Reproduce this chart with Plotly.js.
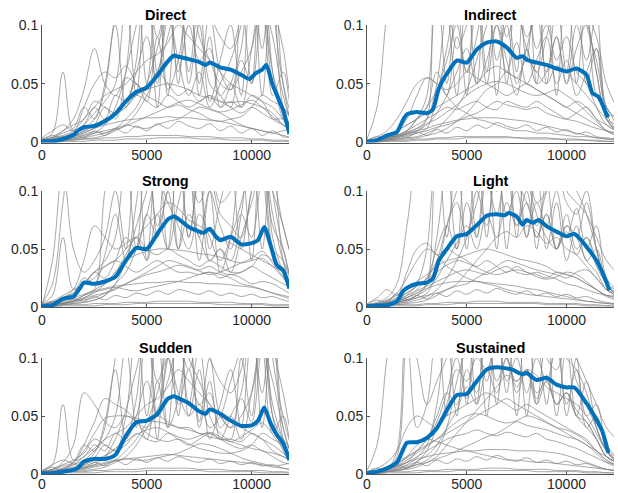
<!DOCTYPE html>
<html>
<head>
<meta charset="utf-8">
<script src="https://cdn.plot.ly/plotly-3.0.1.min.js"></script>
<style>html,body{margin:0;padding:0;background:#fff;}#chart{width:618px;height:493px;}</style>
</head>
<body>
<div id="chart"></div>
<script>
// ---------- DATA ----------
const panelTitles = ['Direct', 'Indirect', 'Strong', 'Light', 'Sudden', 'Sustained'];
const xTickVals = [0, 5000, 10000];
const xTickText = ['0', '5000', '10000'];
const yTickVals = [0, 0.05, 0.1];
const yTickText = ['0', '0.05', '0.1'];

// sample positions of the individual (gray) curves
const xGrid = [0,500,1000,1500,2000,2500,3000,3500,4000,4500,5000,5500,6000,6500,7000,7500,8000,8500,9000,9500,10000,10500,11000,11500,12000,12500];

// ---- mean curves (blue) ----
const directMeanX = [0,500,1000,1500,1700,2000,2500,3000,3500,4000,4500,5000,5500,6000,6300,6500,7000,7500,7800,8000,8500,9000,9500,9900,10200,10500,10700,11000,11500,11800];
const directMean  = [0.001,0.001,0.003,0.0066,0.01,0.013,0.014,0.018,0.0245,0.035,0.043,0.047,0.057,0.069,0.074,0.073,0.071,0.0685,0.066,0.068,0.064,0.062,0.0576,0.054,0.059,0.062,0.066,0.049,0.0275,0.0072];

const indirectMeanX = [0,500,1000,1500,1800,2000,2500,3000,3300,3600,4000,4500,5000,5500,6000,6500,7000,7500,7800,8000,8500,9000,9500,10000,10500,11000,11300,11600,12000,12100];
const indirectMean  = [0.0006,0.002,0.006,0.009,0.019,0.024,0.026,0.025,0.028,0.046,0.0585,0.0697,0.068,0.079,0.085,0.086,0.081,0.072,0.0735,0.0705,0.068,0.066,0.063,0.0605,0.063,0.0576,0.042,0.039,0.0245,0.0216];

const strongMeanX = [0,500,800,1000,1500,1800,2000,2500,3000,3500,4000,4500,5000,5500,6000,6300,6500,7000,7500,7700,8000,8300,8500,9000,9500,10000,10300,10600,10900,11200,11500,11800];
const strongMean  = [0.0006,0.0015,0.005,0.0072,0.009,0.016,0.021,0.020,0.022,0.026,0.040,0.051,0.050,0.063,0.0755,0.078,0.076,0.069,0.065,0.064,0.0675,0.0605,0.0576,0.0605,0.054,0.055,0.0576,0.069,0.0533,0.036,0.0317,0.0158];

const lightMeanX = [0,500,1000,1500,1800,2000,2500,3000,3300,3600,4000,4500,5000,5500,6000,6500,6900,7100,7500,7800,8000,8300,8600,9000,9500,10000,10400,11000,11500,12000,12150];
const lightMean  = [0.0006,0.0014,0.0014,0.005,0.0135,0.0164,0.020,0.021,0.0245,0.040,0.050,0.061,0.063,0.0705,0.0787,0.080,0.079,0.081,0.078,0.071,0.075,0.0726,0.075,0.0697,0.065,0.061,0.063,0.052,0.040,0.0216,0.0144];

const suddenMeanX = [0,500,1000,1500,1700,2000,2500,3000,3500,4000,4500,5000,5500,6000,6300,6500,7000,7500,7800,8000,8500,9000,9500,10000,10300,10600,10900,11200,11500,11800];
const suddenMean  = [0.0006,0.0006,0.002,0.0035,0.005,0.0107,0.013,0.013,0.0164,0.033,0.0447,0.046,0.0516,0.065,0.067,0.0654,0.061,0.054,0.052,0.0556,0.052,0.046,0.0415,0.042,0.046,0.0573,0.0438,0.0337,0.0265,0.012];

const sustainedMeanX = [0,500,1000,1500,1800,2000,2500,3000,3500,4000,4500,5000,5500,6000,6500,7000,7300,7500,7800,8000,8500,9000,9500,10000,10400,11000,11500,11800,12100];
const sustainedMean  = [0.0006,0.002,0.005,0.010,0.0207,0.027,0.0274,0.031,0.0395,0.055,0.068,0.069,0.080,0.090,0.092,0.091,0.090,0.088,0.086,0.087,0.081,0.083,0.077,0.0746,0.0746,0.061,0.0467,0.0366,0.018];

// ---- individual curves (gray), one row per curve, sampled at xGrid ----
const directGray = [
 [0.001,0.001,0.002,0.002,0.003,0.003,0.004,0.004,0.005,0.005,0.006,0.006,0.006,0.006,0.005,0.005,0.005,0.004,0.004,0.004,0.003,0.003,0.002,0.002,0.001,0.001],
 [0.001,0.002,0.004,0.006,0.009,0.012,0.015,0.017,0.019,0.02,0.021,0.021,0.022,0.021,0.021,0.02,0.019,0.018,0.016,0.014,0.012,0.01,0.008,0.006,0.004,0.003],
 [0.002,0.003,0.005,0.008,0.012,0.02,0.045,0.11,0.14,0.13,0.12,0.15,0.16,0.14,0.12,0.13,0.15,0.14,0.12,0.13,0.15,0.16,0.12,0.08,0.03,0.02],
 [0.003,0.008,0.06,0.01,0.015,0.03,0.02,0.04,0.035,0.06,0.09,0.05,0.12,0.06,0.1,0.07,0.08,0.04,0.05,0.03,0.08,0.13,0.05,0.03,0.02,0.02],
 [0.002,0.004,0.01,0.02,0.045,0.08,0.05,0.04,0.055,0.05,0.045,0.06,0.05,0.04,0.045,0.035,0.04,0.03,0.035,0.03,0.04,0.035,0.02,0.015,0.01,0.01],
 [0.001,0.002,0.003,0.005,0.01,0.015,0.02,0.025,0.03,0.04,0.045,0.048,0.05,0.048,0.045,0.04,0.038,0.035,0.034,0.035,0.033,0.03,0.025,0.015,0.01,0.008],
 [0.001,0.001,0.002,0.003,0.004,0.006,0.008,0.012,0.02,0.03,0.05,0.08,0.11,0.07,0.04,0.06,0.03,0.05,0.07,0.1,0.15,0.2,0.12,0.05,0.02,0.01],
 [0.002,0.005,0.01,0.015,0.02,0.035,0.03,0.025,0.03,0.04,0.035,0.03,0.04,0.035,0.03,0.035,0.04,0.035,0.03,0.025,0.03,0.025,0.02,0.02,0.015,0.01],
 [0.001,0.001,0.002,0.003,0.005,0.008,0.015,0.03,0.06,0.1,0.13,0.09,0.12,0.11,0.14,0.09,0.07,0.05,0.045,0.06,0.08,0.12,0.09,0.04,0.015,0.01],
 [0.004,0.01,0.015,0.01,0.03,0.05,0.06,0.055,0.065,0.05,0.04,0.035,0.03,0.032,0.028,0.025,0.02,0.018,0.02,0.022,0.03,0.04,0.035,0.03,0.02,0.02],
 [0.001,0.002,0.003,0.004,0.006,0.008,0.01,0.012,0.015,0.013,0.012,0.015,0.018,0.02,0.025,0.03,0.028,0.025,0.02,0.015,0.012,0.01,0.008,0.01,0.012,0.01],
 [0.001,0.001,0.001,0.002,0.003,0.004,0.006,0.01,0.015,0.025,0.04,0.06,0.09,0.12,0.1,0.13,0.11,0.09,0.08,0.11,0.16,0.13,0.06,0.03,0.01,0.008],
 [0,0,0.001,0.001,0.001,0.002,0.002,0.002,0.003,0.003,0.003,0.004,0.004,0.004,0.004,0.003,0.003,0.003,0.002,0.002,0.002,0.002,0.001,0.001,0.001,0.001],
 [0.002,0.004,0.006,0.01,0.02,0.03,0.04,0.045,0.05,0.06,0.07,0.075,0.085,0.1,0.09,0.08,0.07,0.06,0.05,0.045,0.04,0.035,0.03,0.02,0.01,0.005],
 [0.002,0.006,0.003,0.008,0.004,0.01,0.006,0.012,0.008,0.014,0.01,0.016,0.012,0.018,0.014,0.012,0.016,0.01,0.014,0.008,0.012,0.006,0.01,0.005,0.004,0.003],
 [0.001,0.003,0.005,0.004,0.007,0.009,0.008,0.011,0.014,0.018,0.022,0.026,0.03,0.034,0.036,0.033,0.029,0.026,0.028,0.032,0.036,0.03,0.022,0.015,0.008,0.005],
 [0.001,0.002,0.004,0.008,0.015,0.025,0.035,0.05,0.12,0.04,0.15,0.03,0.14,0.05,0.16,0.04,0.09,0.03,0.05,0.08,0.16,0.04,0.14,0.03,0.01,0.005],
 [0.001,0.001,0.003,0.005,0.01,0.015,0.03,0.02,0.06,0.14,0.05,0.13,0.04,0.15,0.06,0.12,0.05,0.04,0.03,0.12,0.05,0.18,0.06,0.02,0.008,0.005],
 [0.002,0.004,0.008,0.012,0.03,0.02,0.05,0.1,0.03,0.07,0.16,0.06,0.11,0.15,0.05,0.1,0.035,0.07,0.1,0.04,0.14,0.08,0.16,0.05,0.015,0.01],
 [0.001,0.002,0.003,0.005,0.008,0.012,0.018,0.025,0.035,0.05,0.035,0.09,0.045,0.07,0.13,0.05,0.11,0.06,0.045,0.07,0.05,0.12,0.04,0.06,0.02,0.01]
];

const indirectGray = [
 [0.001,0.001,0.001,0.002,0.002,0.003,0.003,0.004,0.004,0.005,0.005,0.005,0.005,0.005,0.005,0.004,0.004,0.004,0.004,0.003,0.003,0.003,0.002,0.002,0.001,0.001],
 [0.001,0.002,0.003,0.005,0.007,0.01,0.012,0.015,0.017,0.019,0.02,0.021,0.021,0.021,0.02,0.019,0.018,0.016,0.014,0.012,0.01,0.008,0.006,0.004,0.003,0.002],
 [0.003,0.03,0.11,0.16,0.15,0.13,0.12,0.14,0.15,0.13,0.12,0.14,0.13,0.12,0.15,0.13,0.12,0.14,0.13,0.12,0.13,0.12,0.11,0.09,0.05,0.03],
 [0.001,0.002,0.003,0.005,0.008,0.01,0.02,0.13,0.12,0.08,0.1,0.13,0.11,0.14,0.1,0.12,0.09,0.11,0.13,0.1,0.12,0.14,0.1,0.07,0.03,0.02],
 [0.002,0.005,0.01,0.02,0.035,0.05,0.055,0.05,0.045,0.05,0.06,0.055,0.05,0.045,0.04,0.045,0.05,0.045,0.04,0.035,0.03,0.035,0.03,0.02,0.015,0.01],
 [0.001,0.002,0.004,0.006,0.01,0.02,0.03,0.06,0.04,0.09,0.06,0.12,0.05,0.1,0.07,0.04,0.08,0.05,0.06,0.09,0.05,0.08,0.1,0.06,0.02,0.01],
 [0.002,0.003,0.006,0.01,0.015,0.02,0.025,0.03,0.035,0.04,0.045,0.05,0.06,0.065,0.06,0.055,0.05,0.045,0.04,0.035,0.03,0.025,0.02,0.015,0.01,0.008],
 [0.001,0.001,0.002,0.003,0.004,0.005,0.008,0.012,0.02,0.03,0.045,0.07,0.1,0.13,0.09,0.11,0.08,0.06,0.09,0.12,0.1,0.14,0.11,0.06,0.02,0.01],
 [0.001,0.002,0.004,0.006,0.01,0.015,0.02,0.025,0.03,0.028,0.032,0.035,0.03,0.028,0.035,0.032,0.03,0.035,0.03,0.025,0.02,0.018,0.015,0.012,0.01,0.008],
 [0,0,0.001,0.001,0.001,0.002,0.002,0.003,0.003,0.003,0.004,0.004,0.004,0.004,0.004,0.004,0.003,0.003,0.003,0.003,0.002,0.002,0.002,0.001,0.001,0.001],
 [0.001,0.002,0.005,0.01,0.02,0.04,0.055,0.05,0.04,0.03,0.025,0.02,0.018,0.015,0.012,0.01,0.01,0.008,0.008,0.007,0.006,0.005,0.005,0.004,0.003,0.003],
 [0.001,0.001,0.002,0.003,0.005,0.008,0.012,0.04,0.08,0.12,0.1,0.14,0.12,0.15,0.13,0.1,0.12,0.08,0.1,0.07,0.09,0.06,0.05,0.03,0.015,0.01],
 [0.001,0.002,0.003,0.004,0.006,0.008,0.01,0.013,0.015,0.018,0.022,0.025,0.03,0.035,0.032,0.03,0.028,0.03,0.025,0.022,0.02,0.025,0.03,0.02,0.01,0.006],
 [0.001,0.001,0.002,0.002,0.003,0.004,0.006,0.008,0.012,0.018,0.025,0.035,0.045,0.05,0.06,0.055,0.07,0.06,0.05,0.065,0.06,0.05,0.04,0.03,0.02,0.015],
 [0.002,0.005,0.003,0.007,0.004,0.009,0.006,0.011,0.008,0.013,0.01,0.015,0.012,0.017,0.014,0.012,0.015,0.01,0.013,0.009,0.011,0.007,0.009,0.005,0.004,0.003],
 [0.001,0.002,0.004,0.006,0.009,0.012,0.016,0.02,0.026,0.032,0.04,0.046,0.05,0.052,0.05,0.046,0.042,0.04,0.042,0.045,0.04,0.034,0.026,0.018,0.01,0.006],
 [0.001,0.002,0.004,0.006,0.01,0.02,0.04,0.14,0.05,0.12,0.04,0.16,0.06,0.13,0.05,0.14,0.07,0.15,0.05,0.12,0.06,0.14,0.05,0.08,0.02,0.01],
 [0.001,0.001,0.002,0.004,0.008,0.012,0.02,0.05,0.11,0.04,0.13,0.05,0.15,0.04,0.12,0.06,0.16,0.05,0.13,0.04,0.15,0.05,0.12,0.04,0.03,0.015],
 [0.002,0.003,0.006,0.01,0.015,0.02,0.03,0.045,0.07,0.1,0.06,0.09,0.14,0.07,0.1,0.05,0.08,0.11,0.06,0.09,0.05,0.1,0.07,0.11,0.03,0.02],
 [0.001,0.002,0.003,0.005,0.007,0.01,0.015,0.025,0.04,0.06,0.08,0.05,0.07,0.1,0.06,0.085,0.05,0.07,0.09,0.05,0.07,0.04,0.06,0.08,0.025,0.01]
];

const strongGray = [
 [0.001,0.001,0.002,0.002,0.002,0.003,0.003,0.003,0.004,0.004,0.004,0.005,0.005,0.005,0.005,0.004,0.004,0.004,0.004,0.003,0.003,0.003,0.002,0.002,0.002,0.001],
 [0.001,0.003,0.005,0.008,0.011,0.014,0.016,0.018,0.019,0.02,0.021,0.021,0.022,0.022,0.021,0.021,0.02,0.02,0.019,0.018,0.017,0.015,0.012,0.009,0.006,0.004],
 [0.003,0.02,0.09,0.15,0.14,0.12,0.13,0.15,0.13,0.12,0.14,0.13,0.15,0.12,0.13,0.14,0.12,0.13,0.15,0.12,0.14,0.13,0.1,0.07,0.04,0.03],
 [0.003,0.01,0.06,0.015,0.02,0.03,0.025,0.04,0.06,0.05,0.08,0.06,0.1,0.05,0.08,0.06,0.04,0.05,0.03,0.06,0.09,0.12,0.05,0.03,0.02,0.015],
 [0.002,0.004,0.008,0.015,0.04,0.07,0.06,0.05,0.055,0.06,0.05,0.045,0.05,0.045,0.04,0.035,0.04,0.035,0.03,0.03,0.035,0.03,0.025,0.02,0.015,0.01],
 [0.001,0.002,0.003,0.005,0.008,0.015,0.1,0.14,0.12,0.13,0.1,0.14,0.12,0.11,0.13,0.1,0.12,0.09,0.1,0.13,0.15,0.17,0.12,0.07,0.04,0.03],
 [0.001,0.002,0.003,0.005,0.01,0.015,0.02,0.03,0.04,0.045,0.048,0.05,0.05,0.049,0.048,0.046,0.045,0.043,0.04,0.038,0.04,0.042,0.035,0.03,0.02,0.015],
 [0.001,0.001,0.002,0.003,0.004,0.006,0.01,0.02,0.03,0.05,0.08,0.11,0.09,0.07,0.05,0.08,0.06,0.04,0.06,0.09,0.13,0.18,0.1,0.05,0.02,0.01],
 [0.002,0.005,0.01,0.015,0.02,0.03,0.035,0.04,0.035,0.03,0.035,0.04,0.035,0.03,0.03,0.028,0.03,0.025,0.028,0.025,0.02,0.022,0.02,0.015,0.01,0.008],
 [0,0,0.001,0.001,0.001,0.001,0.002,0.002,0.002,0.003,0.003,0.003,0.003,0.003,0.003,0.003,0.003,0.002,0.002,0.002,0.002,0.002,0.001,0.001,0.001,0.001],
 [0.001,0.002,0.004,0.006,0.01,0.013,0.015,0.017,0.015,0.014,0.016,0.018,0.02,0.022,0.025,0.028,0.03,0.028,0.025,0.02,0.018,0.015,0.012,0.01,0.008,0.006],
 [0.001,0.001,0.002,0.003,0.004,0.006,0.01,0.02,0.04,0.07,0.1,0.13,0.11,0.14,0.12,0.09,0.11,0.08,0.07,0.06,0.1,0.13,0.08,0.04,0.02,0.012],
 [0.002,0.004,0.008,0.012,0.02,0.025,0.035,0.04,0.05,0.06,0.07,0.08,0.09,0.085,0.075,0.07,0.065,0.06,0.055,0.05,0.045,0.04,0.035,0.025,0.015,0.01],
 [0.001,0.002,0.003,0.004,0.006,0.008,0.012,0.016,0.02,0.025,0.03,0.035,0.04,0.038,0.035,0.032,0.035,0.03,0.028,0.03,0.035,0.045,0.04,0.03,0.02,0.015],
 [0.002,0.005,0.003,0.007,0.005,0.009,0.006,0.01,0.008,0.012,0.01,0.014,0.011,0.015,0.013,0.011,0.014,0.01,0.012,0.009,0.011,0.008,0.009,0.006,0.004,0.003],
 [0.001,0.002,0.003,0.005,0.007,0.01,0.012,0.015,0.02,0.024,0.028,0.03,0.033,0.036,0.034,0.031,0.028,0.03,0.034,0.038,0.042,0.048,0.038,0.026,0.016,0.01],
 [0.001,0.04,0.12,0.05,0.03,0.04,0.06,0.1,0.05,0.14,0.04,0.15,0.05,0.13,0.06,0.12,0.04,0.05,0.04,0.08,0.15,0.05,0.14,0.04,0.015,0.01],
 [0.001,0.002,0.005,0.01,0.02,0.03,0.04,0.06,0.13,0.05,0.14,0.06,0.16,0.05,0.12,0.04,0.1,0.03,0.06,0.13,0.04,0.17,0.06,0.03,0.01,0.006],
 [0.002,0.004,0.008,0.012,0.025,0.02,0.045,0.08,0.04,0.09,0.15,0.07,0.1,0.14,0.06,0.11,0.05,0.09,0.12,0.05,0.1,0.13,0.07,0.05,0.02,0.015],
 [0.001,0.002,0.003,0.005,0.008,0.012,0.02,0.03,0.045,0.06,0.04,0.08,0.05,0.09,0.12,0.06,0.1,0.07,0.05,0.08,0.06,0.11,0.05,0.04,0.02,0.01]
];

const lightGray = [
 [0.001,0.001,0.001,0.002,0.002,0.002,0.003,0.003,0.004,0.004,0.004,0.005,0.005,0.005,0.004,0.004,0.004,0.004,0.003,0.003,0.003,0.003,0.002,0.002,0.001,0.001],
 [0.001,0.002,0.003,0.005,0.008,0.012,0.016,0.019,0.021,0.022,0.022,0.022,0.021,0.02,0.019,0.018,0.016,0.015,0.013,0.011,0.009,0.007,0.005,0.004,0.003,0.002],
 [0.002,0.004,0.008,0.02,0.07,0.13,0.15,0.13,0.14,0.12,0.13,0.15,0.14,0.12,0.13,0.14,0.12,0.13,0.11,0.12,0.1,0.09,0.08,0.06,0.04,0.03],
 [0.001,0.002,0.003,0.004,0.006,0.01,0.02,0.12,0.1,0.13,0.11,0.14,0.12,0.1,0.13,0.11,0.12,0.09,0.1,0.12,0.11,0.1,0.08,0.05,0.02,0.015],
 [0.003,0.008,0.015,0.01,0.03,0.05,0.055,0.045,0.05,0.045,0.04,0.035,0.04,0.035,0.03,0.035,0.03,0.028,0.025,0.03,0.028,0.025,0.02,0.015,0.01,0.01],
 [0.001,0.002,0.003,0.005,0.008,0.015,0.025,0.05,0.07,0.05,0.09,0.06,0.11,0.08,0.12,0.07,0.09,0.06,0.08,0.05,0.07,0.06,0.09,0.05,0.02,0.01],
 [0.002,0.003,0.006,0.01,0.015,0.022,0.028,0.035,0.04,0.042,0.045,0.048,0.05,0.048,0.045,0.042,0.04,0.038,0.035,0.03,0.028,0.025,0.02,0.015,0.01,0.008],
 [0.001,0.001,0.002,0.003,0.004,0.006,0.009,0.015,0.025,0.04,0.06,0.09,0.12,0.1,0.13,0.11,0.09,0.07,0.1,0.12,0.09,0.08,0.1,0.05,0.02,0.01],
 [0.001,0.002,0.004,0.006,0.01,0.014,0.018,0.022,0.026,0.03,0.032,0.03,0.028,0.032,0.035,0.03,0.028,0.03,0.027,0.024,0.02,0.018,0.015,0.012,0.01,0.008],
 [0,0,0.001,0.001,0.001,0.001,0.002,0.002,0.002,0.003,0.003,0.003,0.003,0.003,0.003,0.003,0.003,0.003,0.002,0.002,0.002,0.002,0.001,0.001,0.001,0.001],
 [0.001,0.002,0.005,0.012,0.025,0.04,0.05,0.045,0.035,0.03,0.025,0.022,0.02,0.018,0.015,0.013,0.011,0.01,0.009,0.008,0.007,0.006,0.005,0.004,0.003,0.003],
 [0.001,0.001,0.002,0.003,0.005,0.008,0.012,0.03,0.07,0.1,0.12,0.1,0.14,0.12,0.1,0.13,0.11,0.08,0.06,0.05,0.07,0.06,0.04,0.03,0.015,0.01],
 [0.001,0.002,0.003,0.004,0.006,0.008,0.01,0.012,0.015,0.018,0.02,0.025,0.03,0.035,0.04,0.038,0.035,0.032,0.03,0.028,0.025,0.03,0.032,0.025,0.015,0.01],
 [0.001,0.001,0.002,0.002,0.003,0.004,0.006,0.01,0.015,0.02,0.03,0.04,0.05,0.06,0.065,0.06,0.07,0.065,0.055,0.06,0.05,0.045,0.035,0.025,0.015,0.012],
 [0.002,0.006,0.004,0.012,0.006,0.01,0.007,0.012,0.009,0.014,0.011,0.015,0.012,0.016,0.013,0.011,0.014,0.01,0.012,0.009,0.011,0.008,0.009,0.006,0.004,0.003],
 [0.001,0.002,0.004,0.007,0.012,0.018,0.024,0.03,0.036,0.04,0.038,0.034,0.03,0.028,0.03,0.032,0.03,0.026,0.024,0.026,0.03,0.028,0.022,0.015,0.009,0.006],
 [0.001,0.002,0.003,0.005,0.01,0.02,0.05,0.15,0.06,0.13,0.05,0.14,0.06,0.15,0.05,0.13,0.06,0.12,0.05,0.09,0.04,0.07,0.04,0.05,0.02,0.01],
 [0.001,0.001,0.002,0.004,0.008,0.012,0.02,0.06,0.12,0.05,0.15,0.06,0.13,0.05,0.16,0.06,0.14,0.05,0.11,0.05,0.08,0.05,0.06,0.04,0.02,0.012],
 [0.002,0.003,0.005,0.008,0.012,0.018,0.025,0.04,0.07,0.09,0.06,0.1,0.07,0.12,0.08,0.1,0.06,0.09,0.07,0.1,0.06,0.085,0.05,0.07,0.025,0.015],
 [0.001,0.002,0.003,0.004,0.006,0.01,0.015,0.025,0.04,0.055,0.07,0.05,0.08,0.06,0.09,0.07,0.1,0.06,0.08,0.05,0.065,0.045,0.06,0.035,0.02,0.01]
];

const suddenGray = [
 [0.001,0.001,0.002,0.002,0.002,0.003,0.003,0.004,0.004,0.004,0.005,0.005,0.005,0.005,0.005,0.004,0.004,0.004,0.003,0.003,0.003,0.003,0.002,0.002,0.001,0.001],
 [0.001,0.001,0.002,0.004,0.006,0.008,0.01,0.012,0.013,0.014,0.015,0.016,0.017,0.016,0.015,0.014,0.013,0.012,0.011,0.01,0.009,0.008,0.006,0.005,0.003,0.002],
 [0.002,0.003,0.004,0.006,0.01,0.018,0.04,0.1,0.14,0.12,0.13,0.15,0.13,0.12,0.14,0.12,0.13,0.11,0.12,0.14,0.16,0.15,0.11,0.07,0.03,0.02],
 [0.003,0.008,0.06,0.012,0.015,0.025,0.02,0.035,0.03,0.05,0.08,0.05,0.1,0.06,0.09,0.06,0.07,0.04,0.05,0.03,0.07,0.12,0.05,0.03,0.02,0.015],
 [0.002,0.004,0.01,0.025,0.07,0.06,0.045,0.04,0.05,0.045,0.04,0.05,0.045,0.04,0.04,0.035,0.035,0.03,0.03,0.028,0.035,0.03,0.02,0.015,0.01,0.008],
 [0.001,0.002,0.005,0.01,0.02,0.035,0.048,0.05,0.05,0.048,0.046,0.045,0.043,0.04,0.038,0.035,0.032,0.03,0.028,0.025,0.022,0.02,0.015,0.01,0.008,0.006],
 [0.001,0.001,0.002,0.003,0.004,0.006,0.008,0.012,0.02,0.03,0.045,0.07,0.1,0.07,0.05,0.06,0.04,0.05,0.08,0.11,0.15,0.19,0.1,0.05,0.02,0.01],
 [0.002,0.004,0.008,0.012,0.018,0.03,0.025,0.02,0.025,0.035,0.03,0.028,0.035,0.03,0.025,0.03,0.035,0.03,0.025,0.022,0.025,0.02,0.018,0.015,0.012,0.01],
 [0.001,0.001,0.002,0.003,0.005,0.008,0.015,0.03,0.055,0.09,0.12,0.08,0.11,0.13,0.1,0.08,0.06,0.05,0.04,0.05,0.07,0.11,0.08,0.04,0.015,0.01],
 [0.003,0.008,0.012,0.01,0.025,0.045,0.065,0.06,0.055,0.045,0.035,0.03,0.028,0.03,0.026,0.022,0.02,0.018,0.018,0.02,0.025,0.035,0.03,0.025,0.02,0.015],
 [0.001,0.002,0.003,0.004,0.005,0.007,0.009,0.011,0.013,0.012,0.012,0.014,0.016,0.018,0.022,0.026,0.025,0.022,0.018,0.014,0.011,0.009,0.007,0.008,0.01,0.008],
 [0.001,0.001,0.001,0.002,0.003,0.004,0.006,0.01,0.015,0.025,0.04,0.055,0.08,0.11,0.09,0.12,0.1,0.08,0.07,0.09,0.14,0.12,0.06,0.03,0.012,0.008],
 [0,0,0.001,0.001,0.001,0.001,0.002,0.002,0.002,0.002,0.003,0.003,0.003,0.003,0.003,0.003,0.002,0.002,0.002,0.002,0.002,0.001,0.001,0.001,0.001,0.001],
 [0.002,0.003,0.005,0.008,0.015,0.022,0.03,0.035,0.04,0.05,0.06,0.065,0.075,0.09,0.08,0.07,0.06,0.05,0.045,0.04,0.035,0.03,0.025,0.018,0.01,0.005],
 [0.002,0.006,0.003,0.009,0.005,0.01,0.007,0.012,0.008,0.013,0.01,0.014,0.011,0.015,0.012,0.01,0.013,0.009,0.011,0.008,0.01,0.007,0.008,0.005,0.004,0.003],
 [0.001,0.002,0.003,0.005,0.008,0.012,0.016,0.022,0.028,0.034,0.038,0.04,0.036,0.032,0.03,0.033,0.036,0.032,0.028,0.032,0.038,0.044,0.034,0.022,0.012,0.007],
 [0.001,0.002,0.004,0.008,0.012,0.02,0.03,0.05,0.11,0.04,0.14,0.03,0.15,0.05,0.13,0.04,0.08,0.03,0.05,0.07,0.15,0.04,0.13,0.03,0.01,0.005],
 [0.001,0.001,0.003,0.005,0.008,0.014,0.025,0.02,0.05,0.13,0.05,0.12,0.04,0.14,0.06,0.11,0.05,0.035,0.03,0.1,0.05,0.17,0.05,0.02,0.008,0.005],
 [0.002,0.004,0.007,0.01,0.025,0.02,0.045,0.09,0.03,0.065,0.15,0.05,0.1,0.14,0.05,0.09,0.03,0.06,0.09,0.04,0.12,0.07,0.15,0.04,0.015,0.01],
 [0.001,0.002,0.003,0.004,0.007,0.01,0.015,0.022,0.032,0.045,0.03,0.08,0.04,0.065,0.12,0.045,0.1,0.05,0.04,0.065,0.045,0.11,0.035,0.05,0.018,0.01]
];

const sustainedGray = [
 [0.001,0.001,0.002,0.002,0.002,0.003,0.003,0.003,0.004,0.004,0.004,0.004,0.005,0.005,0.005,0.004,0.004,0.004,0.004,0.003,0.003,0.003,0.002,0.002,0.001,0.001],
 [0.001,0.002,0.004,0.007,0.01,0.013,0.015,0.017,0.018,0.019,0.02,0.02,0.021,0.021,0.021,0.02,0.02,0.02,0.019,0.018,0.016,0.013,0.01,0.007,0.004,0.003],
 [0.003,0.025,0.1,0.15,0.14,0.12,0.13,0.14,0.12,0.13,0.15,0.13,0.12,0.14,0.13,0.12,0.14,0.12,0.13,0.11,0.12,0.1,0.08,0.06,0.04,0.03],
 [0.001,0.002,0.004,0.02,0.13,0.1,0.06,0.08,0.1,0.12,0.1,0.13,0.11,0.14,0.12,0.1,0.11,0.13,0.1,0.09,0.11,0.08,0.06,0.04,0.02,0.015],
 [0.002,0.005,0.01,0.02,0.04,0.05,0.045,0.04,0.05,0.055,0.06,0.065,0.07,0.065,0.06,0.055,0.06,0.055,0.05,0.045,0.04,0.035,0.03,0.02,0.015,0.01],
 [0.001,0.002,0.004,0.006,0.01,0.02,0.03,0.05,0.07,0.06,0.09,0.07,0.12,0.08,0.1,0.07,0.09,0.06,0.08,0.06,0.07,0.05,0.04,0.03,0.015,0.01],
 [0.002,0.003,0.006,0.01,0.015,0.02,0.025,0.03,0.035,0.04,0.045,0.05,0.055,0.06,0.065,0.06,0.055,0.05,0.045,0.04,0.035,0.03,0.025,0.02,0.012,0.008],
 [0.001,0.001,0.002,0.003,0.005,0.008,0.012,0.02,0.04,0.08,0.11,0.13,0.12,0.14,0.11,0.13,0.1,0.12,0.11,0.13,0.1,0.09,0.07,0.04,0.02,0.01],
 [0.001,0.002,0.004,0.006,0.01,0.015,0.02,0.025,0.03,0.033,0.035,0.038,0.035,0.033,0.036,0.034,0.032,0.035,0.03,0.028,0.025,0.022,0.018,0.014,0.01,0.008],
 [0,0,0.001,0.001,0.001,0.001,0.002,0.002,0.002,0.003,0.003,0.003,0.003,0.003,0.003,0.003,0.003,0.002,0.002,0.002,0.002,0.002,0.001,0.001,0.001,0.001],
 [0.001,0.002,0.004,0.008,0.015,0.025,0.03,0.028,0.025,0.022,0.02,0.018,0.016,0.014,0.012,0.012,0.011,0.01,0.01,0.009,0.008,0.007,0.006,0.005,0.004,0.003],
 [0.001,0.001,0.002,0.003,0.005,0.01,0.02,0.04,0.06,0.09,0.08,0.1,0.09,0.12,0.1,0.08,0.09,0.07,0.08,0.06,0.07,0.055,0.045,0.03,0.015,0.01],
 [0.001,0.002,0.003,0.004,0.006,0.008,0.01,0.013,0.016,0.02,0.024,0.028,0.032,0.035,0.04,0.045,0.042,0.04,0.038,0.035,0.032,0.03,0.025,0.018,0.01,0.006],
 [0.001,0.001,0.002,0.003,0.004,0.006,0.01,0.015,0.025,0.035,0.045,0.055,0.065,0.075,0.085,0.08,0.09,0.085,0.075,0.07,0.065,0.06,0.05,0.035,0.02,0.012],
 [0.002,0.005,0.003,0.008,0.005,0.01,0.007,0.012,0.009,0.013,0.011,0.015,0.012,0.016,0.013,0.011,0.014,0.01,0.012,0.009,0.011,0.008,0.009,0.006,0.004,0.003],
 [0.001,0.002,0.004,0.007,0.012,0.018,0.024,0.03,0.038,0.045,0.05,0.052,0.05,0.046,0.044,0.046,0.05,0.048,0.044,0.04,0.038,0.034,0.028,0.02,0.012,0.007],
 [0.001,0.002,0.004,0.015,0.12,0.04,0.06,0.13,0.05,0.14,0.06,0.15,0.05,0.13,0.07,0.14,0.05,0.12,0.06,0.13,0.05,0.1,0.04,0.05,0.02,0.01],
 [0.001,0.001,0.002,0.004,0.008,0.014,0.025,0.06,0.12,0.05,0.14,0.06,0.15,0.06,0.13,0.05,0.15,0.06,0.12,0.05,0.11,0.05,0.08,0.04,0.02,0.012],
 [0.002,0.003,0.006,0.009,0.014,0.02,0.03,0.045,0.07,0.1,0.065,0.11,0.08,0.12,0.08,0.1,0.07,0.1,0.08,0.11,0.06,0.09,0.05,0.06,0.025,0.015],
 [0.001,0.002,0.003,0.005,0.007,0.011,0.016,0.025,0.04,0.055,0.075,0.06,0.09,0.07,0.1,0.075,0.09,0.065,0.085,0.06,0.07,0.05,0.045,0.03,0.015,0.01]
];

// ---------- BUILD ----------
const grays = [directGray, indirectGray, strongGray, lightGray, suddenGray, sustainedGray];
const meanXs = [directMeanX, indirectMeanX, strongMeanX, lightMeanX, suddenMeanX, sustainedMeanX];
const meanYs = [directMean, indirectMean, strongMean, lightMean, suddenMean, sustainedMean];

const W = 618, H = 493;
const colPix = [[42, 289], [367, 614]];
const rowPix = [[25, 142.5], [191, 307], [358, 474]];
const colXmax = [11780, 12380];
const titleY = [15, 181.5, 348];

const traces = [];
const layout = {
  width: W, height: H,
  margin: {l: 0, r: 0, t: 0, b: 0},
  paper_bgcolor: '#ffffff', plot_bgcolor: '#ffffff',
  showlegend: false,
  annotations: []
};
const tickFont = {family: 'Liberation Sans, Arial, Helvetica, sans-serif', size: 14, color: '#262626'};

for (let p = 0; p < 6; p++) {
  const r = Math.floor(p / 2), c = p % 2;
  const n = p + 1;
  const xa = 'x' + (n === 1 ? '' : n), ya = 'y' + (n === 1 ? '' : n);
  grays[p].forEach(g => {
    traces.push({x: xGrid, y: g, xaxis: xa, yaxis: ya, type: 'scatter', mode: 'lines',
      line: {color: '#828282', width: 0.7, shape: 'spline', smoothing: 1}, hoverinfo: 'skip'});
  });
  traces.push({x: meanXs[p], y: meanYs[p], xaxis: xa, yaxis: ya, type: 'scatter', mode: 'lines',
    line: {color: '#0072BD', width: 4, shape: 'spline', smoothing: 0.6}, hoverinfo: 'skip'});

  const xd = [colPix[c][0] / W, colPix[c][1] / W];
  const yd = [1 - rowPix[r][1] / H, 1 - rowPix[r][0] / H];
  const xAxis = {
    domain: xd, range: [0, colXmax[c]], anchor: ya,
    tickvals: xTickVals, ticktext: xTickText,
    showline: true, linecolor: '#555555', linewidth: 1,
    ticks: 'inside', ticklen: 3, tickcolor: '#555555',
    showgrid: false, zeroline: false, tickfont: tickFont, fixedrange: true
  };
  if (r === 2) xAxis.ticklabelstandoff = -3;
  layout['xaxis' + (n === 1 ? '' : n)] = xAxis;
  layout['yaxis' + (n === 1 ? '' : n)] = {
    domain: yd, range: [0, 0.1], anchor: xa,
    tickvals: yTickVals, ticktext: yTickText,
    showline: true, linecolor: '#555555', linewidth: 1,
    ticks: 'inside', ticklen: 3, tickcolor: '#555555',
    showgrid: false, zeroline: false, tickfont: tickFont, fixedrange: true
  };
  layout.annotations.push({
    text: '<b>' + panelTitles[p] + '</b>', xref: 'paper', yref: 'paper',
    x: (colPix[c][0] + colPix[c][1]) / 2 / W, y: 1 - titleY[r] / H,
    xanchor: 'center', yanchor: 'middle', showarrow: false,
    font: {family: 'Liberation Sans, Arial, Helvetica, sans-serif', size: 14.5, color: '#000000'}
  });
}

Plotly.newPlot('chart', traces, layout, {staticPlot: true, displayModeBar: false});
</script>
</body>
</html>
